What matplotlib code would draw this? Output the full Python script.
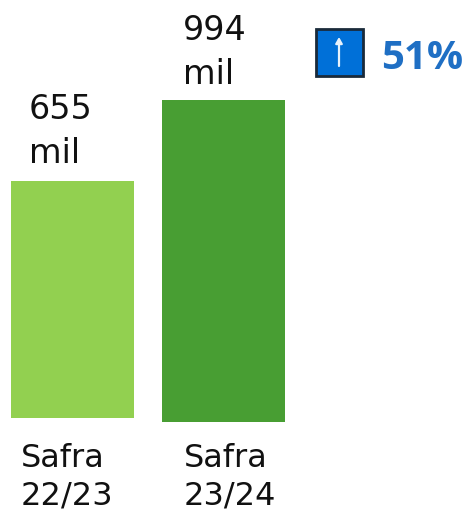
#!/usr/bin/env python3

import matplotlib
matplotlib.use("Agg")
import matplotlib.pyplot as plt
from matplotlib.patches import Rectangle

categories = ["Safra\n22/23", "Safra\n23/24"]
# bar heights as drawn in the picture: the left one is taller than 655 would give
drawn_values = [731, 994]
value_labels = ["655\nmil", "994\nmil"]
bar_colors = ["#92d050", "#489e33"]
change_label = "51%"

plt.rcParams["font.family"] = ["DejaVu Sans"]

fig = plt.figure(figsize = (4.65, 5.11), dpi = 100)
ax = fig.add_axes([0, 0, 1, 1])
ax.set_xlim(0, 465)
ax.set_ylim(511, 0)
ax.axis("off")

scale = 322 / 994
bases = [418, 422]

ax.bar([72.5, 223], [v * scale for v in drawn_values], width = 123,
       bottom = [b - v * scale for b, v in zip(bases, drawn_values)], color = bar_colors)

ax.text(29, 163, value_labels[0], fontsize = 24, color = "#111111", va = "baseline", ha = "left", linespacing = 1.43)
ax.text(183, 84, value_labels[1], fontsize = 24, color = "#111111", va = "baseline", ha = "left", linespacing = 1.43)

ax.text(21, 505, categories[0], fontsize = 23, color = "#111111", va = "baseline", ha = "left", linespacing = 1.3)
ax.text(184, 505, categories[1], fontsize = 23, color = "#111111", va = "baseline", ha = "left", linespacing = 1.3)

ax.add_patch(Rectangle((316, 29), 47, 47, facecolor = "#0070d8", edgecolor = "#1a2a3a", linewidth = 2))
ax.annotate("", xy = (339, 37), xytext = (339, 66),
            arrowprops = dict(arrowstyle = "-|>,head_length=0.35,head_width=0.2", color = "#e8f2fb", lw = 1.6, shrinkA = 0, shrinkB = 0))
ax.text(381, 69, change_label, fontsize = 29, color = "#1f6fc4", fontweight = "bold",
        family = "Open Sans", va = "baseline", ha = "left")

fig.savefig("out.png", dpi = 100)
plt.close(fig)
